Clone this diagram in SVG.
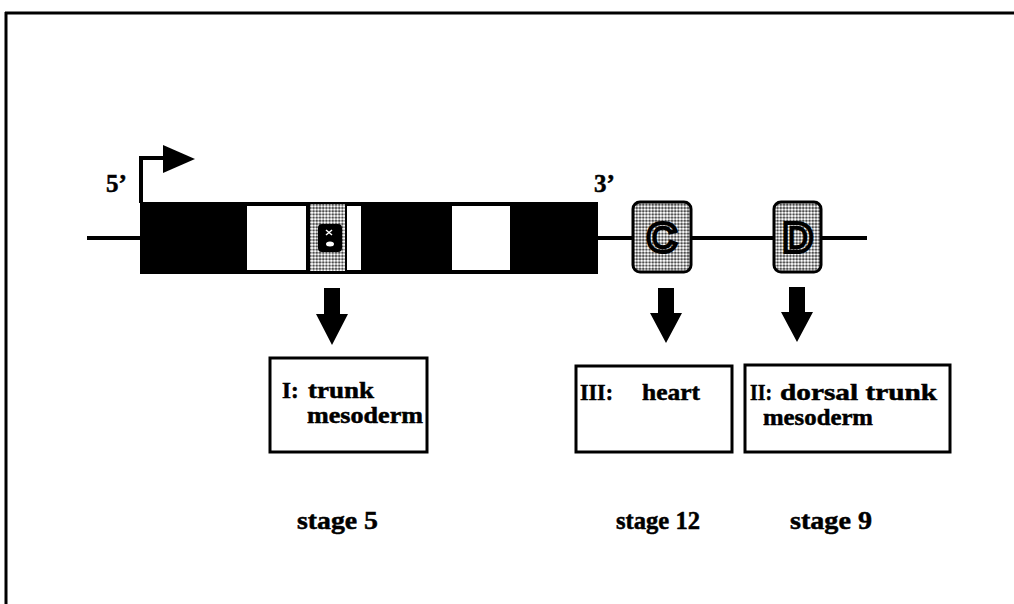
<svg xmlns="http://www.w3.org/2000/svg" width="1014" height="604" viewBox="0 0 1014 604">
<style>
.t{font-family:"Liberation Serif","Times New Roman",serif;font-weight:bold;fill:#000;stroke:#000;stroke-width:0.5}
.lbl{font-size:23px}
.stg{font-size:26px}
.end{font-size:25px}
.box{fill:#fff;stroke:#000;stroke-width:3}
.white{fill:#fff}
.el{fill:url(#dots);stroke:#000;stroke-width:3}
.letter{font-family:"Liberation Sans",Arial,sans-serif;font-weight:bold;font-size:42px;fill:url(#dots);stroke:#000;stroke-width:4}
.dna{fill:none;stroke:#000;stroke-width:4}
.arrow{fill:#000}
</style>
<defs>
<pattern id="dots" width="3.2" height="3.2" patternUnits="userSpaceOnUse">
<rect width="3.2" height="3.2" fill="#333"/>
<circle cx="1.6" cy="1.6" r="1.45" fill="#fff"/>
</pattern>
</defs>
<rect width="1014" height="604" fill="#fff"/>
<g id="frame">
<line x1="5" y1="13" x2="1014" y2="13" stroke="#000" stroke-width="3"/>
<line x1="6" y1="12" x2="6" y2="604" stroke="#000" stroke-width="3"/>
</g>
<g id="connectors">
<path class="dna" d="M87,238 H140"/>
<path class="dna" d="M598,238 H867"/>
<polygon class="arrow" points="324,288 340,288 340,314 348,314 332,345 316,314 324,314"/>
<polygon class="arrow" points="658,288 674,288 674,313 682,313 666,343 650,313 658,313"/>
<polygon class="arrow" points="789,287 805,287 805,312 813,312 797,342 781,312 789,312"/>
</g>
<g id="promoter">
<path d="M141,203 V158 H166" fill="none" stroke="#000" stroke-width="4"/>
<polygon points="163,145 195,159 163,173" fill="#000"/>
<text class="t end" x="106" y="192">5’</text>
</g>
<g id="gene">
<rect x="140" y="202" width="458" height="72" fill="#000"/>
<rect class="white" x="247" y="206" width="59" height="64"/>
<rect class="white" x="347" y="206" width="14" height="64"/>
<rect class="white" x="452" y="206" width="58" height="64"/>
<text class="t end" x="594" y="192">3’</text>
</g>
<g id="element-B">
<rect x="310" y="204" width="35" height="67" fill="url(#dots)"/>
<rect x="318" y="224" width="24" height="28" rx="4" fill="#000"/>
<path d="M326,230 l6,5 M332,230 l-6,5" stroke="#fff" stroke-width="1.5"/>
<ellipse cx="330" cy="244" rx="4" ry="2.5" fill="#fff"/>
</g>
<g id="element-C">
<rect class="el" x="633" y="202" width="58" height="70" rx="7"/>
<text class="letter" x="662" y="252" text-anchor="middle">C</text>
</g>
<g id="element-D">
<rect class="el" x="774" y="202" width="47" height="70" rx="7"/>
<text class="letter" x="798" y="252" text-anchor="middle">D</text>
</g>
<g id="box-I">
<rect class="box" x="270" y="358" width="157" height="94"/>
<text class="t lbl" x="282" y="398">I:</text>
<text class="t lbl" x="308" y="398" textLength="66" lengthAdjust="spacingAndGlyphs">trunk</text>
<text class="t lbl" x="307" y="423" textLength="116" lengthAdjust="spacingAndGlyphs">mesoderm</text>
</g>
<g id="box-III">
<rect class="box" x="576" y="366" width="156" height="86"/>
<text class="t lbl" x="580" y="400" textLength="33" lengthAdjust="spacingAndGlyphs">III:</text>
<text class="t lbl" x="642" y="400" textLength="58" lengthAdjust="spacingAndGlyphs">heart</text>
</g>
<g id="box-II">
<rect class="box" x="745" y="365" width="205" height="87"/>
<text class="t lbl" x="750" y="400" textLength="22" lengthAdjust="spacingAndGlyphs">II:</text>
<text class="t lbl" x="780" y="400" textLength="157" lengthAdjust="spacingAndGlyphs">dorsal trunk</text>
<text class="t lbl" x="763" y="425" textLength="110" lengthAdjust="spacingAndGlyphs">mesoderm</text>
</g>
<g id="stages">
<text class="t stg" x="297" y="529" textLength="81" lengthAdjust="spacingAndGlyphs">stage 5</text>
<text class="t stg" x="616" y="529" textLength="84" lengthAdjust="spacingAndGlyphs">stage 12</text>
<text class="t stg" x="790" y="529" textLength="82" lengthAdjust="spacingAndGlyphs">stage 9</text>
</g>
</svg>
